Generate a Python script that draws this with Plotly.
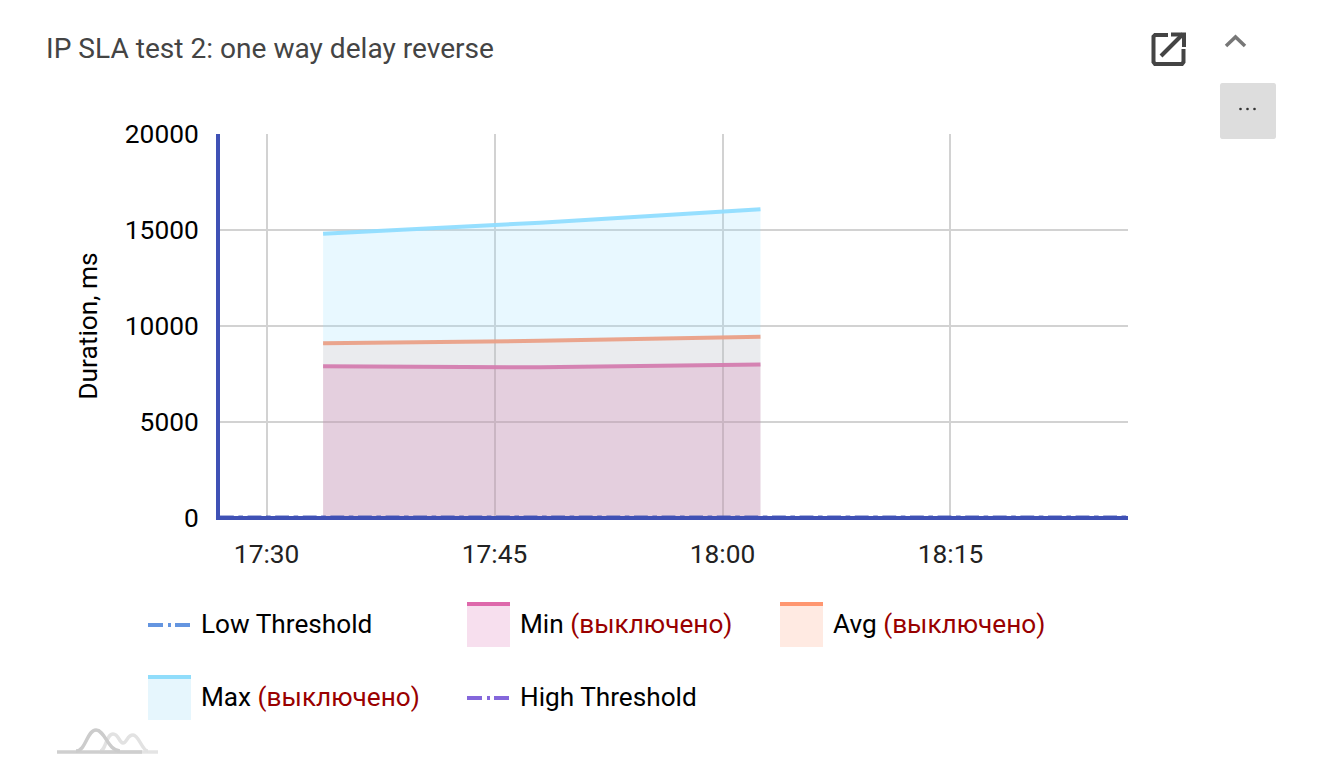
import plotly.graph_objects as go

# ---- data ----
times = ["2024-01-01 17:33:43", "2024-01-01 17:48:00", "2024-01-01 18:02:30"]
min_values = [7900, 7850, 8000]
avg_values = [9100, 9230, 9440]
max_values = [14800, 15380, 16080]
threshold_times = ["2024-01-01 17:26:56", "2024-01-01 18:26:41"]
low_threshold = [0, 0]
high_threshold = [0, 0]
tick_values = ["2024-01-01 17:30:00", "2024-01-01 17:45:00", "2024-01-01 18:00:00", "2024-01-01 18:15:00"]
tick_labels = ["17:30", "17:45", "18:00", "18:15"]
y_ticks = [0, 5000, 10000, 15000, 20000]
title_text = "IP SLA test 2: one way delay reverse"
off_text = "(выключено)"

W, H = 1317, 771
PAGE = 8  # the page's own margin
L, R, T, B = 220, 1128, 134, 518
FONT = "Roboto"

def px(x):
    return (x - L) / (R - L)

def py(y):
    return (B - y) / (B - T)

def path(pts, close=False):
    s = "M" + " L".join(f"{px(x):.5f},{py(y):.5f}" for x, y in pts)
    return s + (" Z" if close else "")

def curve(pts):
    s = f"M{px(pts[0][0]):.5f},{py(pts[0][1]):.5f}"
    for i in range(1, len(pts), 3):
        s += " C" + " ".join(f"{px(x):.5f},{py(y):.5f}" for x, y in pts[i:i + 3])
    return s

fig = go.Figure()
series = [
    ("Max", max_values, "rgba(144,221,255,0.95)", "rgba(150,222,255,0.22)"),
    ("Avg", avg_values, "rgba(234,160,135,0.95)", "rgba(255,130,90,0.10)"),
    ("Min", min_values, "rgba(212,125,175,0.95)", "rgba(205,85,150,0.18)"),
]
for name, vals, line, fill in series:
    fig.add_trace(go.Scatter(x=times, y=vals, name=name, mode="lines", fill="tozeroy",
                             fillcolor=fill, line=dict(color=line, width=4)))
fig.add_trace(go.Scatter(x=threshold_times, y=low_threshold, name="Low Threshold", mode="lines",
                         line=dict(color="#3F51B5", width=4.6, dash="dashdot")))
fig.add_trace(go.Scatter(x=threshold_times, y=high_threshold, name="High Threshold", mode="lines",
                         line=dict(color="#3F51B5", width=4.6, dash="dashdot")))

shapes = []
annotations = []

def text(x, y, s, size=26.2, color="#000000", anchor="left"):
    annotations.append(dict(x=px(x), y=py(y), xref="paper", yref="paper", text=s, showarrow=False,
                            xanchor=anchor, yanchor="middle", align="left",
                            font=dict(family=FONT, size=size, color=color), borderpad=0, borderwidth=0))

def legend_text(x, y, name, off=False):
    s = name + (f' <span style="color:#990000">{off_text}</span>' if off else "")
    text(x, y, s)

def rect(x0, y0, x1, y1, color):
    shapes.append(dict(type="rect", xref="paper", yref="paper", x0=px(x0), x1=px(x1), y0=py(y1), y1=py(y0),
                       fillcolor=color, line=dict(width=0), layer="above"))

def stroke(d, color, width):
    shapes.append(dict(type="path", xref="paper", yref="paper", path=d, line=dict(color=color, width=width),
                       layer="above"))

def dashdot_icon(x0, y, color):
    rect(x0, y - 2, x0 + 15, y + 2, color)
    rect(x0 + 20, y - 2, x0 + 23, y + 2, color)
    rect(x0 + 27, y - 2, x0 + 42, y + 2, color)

def area_icon(x0, y0, line, fill):
    rect(x0, y0, x0 + 43, y0 + 45, fill)
    rect(x0, y0, x0 + 43, y0 + 4, line)

# title
text(46, 49, title_text, size=28.1, color="#444444")

# baseline of the plot, drawn above the fills
stroke(path([(216, B), (R, B)]), "#3F51B5", 4)

# legend
dashdot_icon(148, 625, "#6495E0")
legend_text(200.5, 624, "Low Threshold")
area_icon(467, 602, "#DE68AB", "#F7DFEE")
legend_text(519.5, 624, "Min", True)
area_icon(780, 602, "#FF9670", "#FFEAE2")
legend_text(832.5, 624, "Avg", True)
area_icon(148, 675, "#90DDFB", "#E6F6FD")
legend_text(200.5, 697, "Max", True)
dashdot_icon(467, 698, "#8467DB")
legend_text(519.5, 697, "High Threshold")

# open-in-new icon
stroke(path([(1168, 35), (1155, 35), (1153.5, 36.5), (1153.5, 62), (1155, 64), (1182, 64), (1183.5, 62), (1183.5, 49)]),
       "#444444", 4)
stroke(path([(1161, 56), (1183, 34)]), "#444444", 4)
stroke(path([(1171, 34.5), (1184, 34.5), (1184, 47)]), "#444444", 4)

# collapse chevron
stroke(path([(1226, 46), (1235.5, 37), (1245, 46)]), "#777777", 3.5)

# "more" button
x0, y0, x1, y1, r = 1220, 83, 1276, 139, 5
shapes.append(dict(type="path", xref="paper", yref="paper", layer="above", fillcolor="#DDDDDD", line=dict(width=0),
                   path=curve([(x0 + r, y0), (x0 + r, y0), (x1 - r, y0), (x1 - r, y0), (x1, y0), (x1, y0), (x1, y0 + r),
                               (x1, y0 + r), (x1, y1 - r), (x1, y1 - r), (x1, y1), (x1, y1), (x1 - r, y1),
                               (x1 - r, y1), (x0 + r, y1), (x0 + r, y1), (x0, y1), (x0, y1), (x0, y1 - r),
                               (x0, y1 - r), (x0, y0 + r), (x0, y0 + r), (x0, y0), (x0, y0), (x0 + r, y0)]) + " Z"))
for dx in (1240.5, 1247.5, 1254.5):
    shapes.append(dict(type="circle", xref="paper", yref="paper", layer="above", fillcolor="#333333",
                       line=dict(width=0), x0=px(dx - 1.3), x1=px(dx + 1.3), y0=py(109 + 1.3), y1=py(109 - 1.3)))

# logo at the bottom
stroke(path([(100, 752), (158, 752)]), "#E4E4E4", 3.5)
stroke(curve([(100, 751), (106, 751), (106, 734), (113, 734), (119, 734), (119, 743), (123, 743),
              (127, 743), (127, 735), (133, 735), (139, 735), (142, 751), (148, 751)]), "#E2E2E2", 3.5)
stroke(path([(57, 752), (142, 752)]), "#CFCFCF", 3.5)
stroke(curve([(76, 751), (86, 751), (87, 730), (96, 730), (105, 730), (108, 751), (120, 751)]), "#CCCCCC", 3.5)

fig.update_layout(
    width=W - 2 * PAGE, height=H - 2 * PAGE - 4, autosize=False,
    margin=dict(l=L - PAGE, r=W - PAGE - R, t=T - PAGE, b=H - PAGE - 4 - B, pad=0),
    paper_bgcolor="#FFFFFF", plot_bgcolor="#FFFFFF",
    showlegend=False, shapes=shapes, annotations=annotations,
    font=dict(family=FONT, size=26, color="#000000"),
    xaxis=dict(range=[threshold_times[0], threshold_times[1]], type="date",
               tickmode="array", tickvals=tick_values, ticktext=tick_labels,
               showgrid=True, gridcolor="#D2D2D2", gridwidth=1.5, zeroline=False,
               showline=False, ticks="",
               ticklabelstandoff=18, tickfont=dict(family=FONT, size=26.3, color="#222222")),
    yaxis=dict(range=[0, 20000], tickmode="array", tickvals=y_ticks, ticktext=[str(v) for v in y_ticks],
               showgrid=True, gridcolor="#D2D2D2", gridwidth=1.5, zeroline=False,
               showline=True, linecolor="#3F51B5", linewidth=4, ticks="",
               ticklabelstandoff=12, tickfont=dict(family=FONT, size=26.3, color="#000000"),
               title=dict(text="Duration, ms", font=dict(family=FONT, size=26.3, color="#000000"), standoff=21)),
)
fig.write_html("out.html")
